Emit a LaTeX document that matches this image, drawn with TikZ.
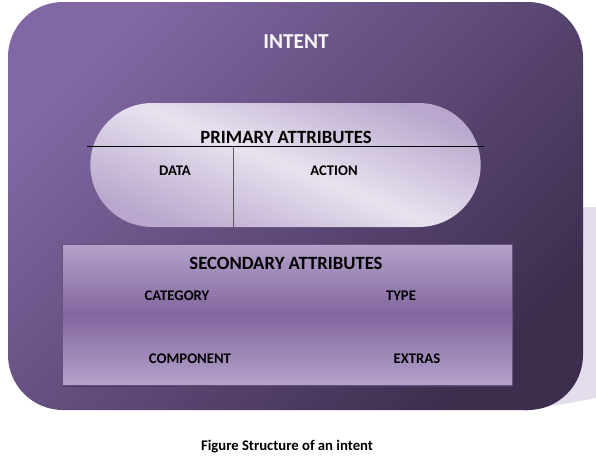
\documentclass[tikz,border=0pt]{standalone}
\usepackage{fontspec}
\setmainfont{Carlito}
\usetikzlibrary{positioning, shapes.misc, shadows}
\definecolor{intentlight}{HTML}{8167A3}
\definecolor{intentdark}{HTML}{3D2E4E}
\definecolor{pilllight}{HTML}{E8E2EF}
\definecolor{pilldark}{HTML}{B9A7CD}
\definecolor{seclight}{HTML}{B4A2CA}
\definecolor{secmid}{HTML}{8366A0}
\definecolor{secedge}{HTML}{4C3B60}
\definecolor{shadowlav}{HTML}{E4DDEC}

\begin{document}
\begin{tikzpicture}[x=1pt, y=-1pt,
    headlabel/.style={inner sep=0pt, font=\bfseries\fontsize{18.7}{20}\selectfont},
    itemlabel/.style={inner sep=0pt, font=\bfseries\fontsize{14.7}{16}\selectfont}]
    \useasboundingbox (0,0) rectangle (596,464);

    % Pale shadow peeking out on the right
    \fill[shadowlav] (525,207) -- (596,207) -- (596,398) -- (525,411) -- cycle;

    % Outer intent box
    \node[rounded corners=55pt, minimum width=575pt, minimum height=408pt,
          top color=intentlight, bottom color=intentdark, shading angle=45] (intent) at (295.5,206) {};
    \node[inner sep=0pt, text=white!95!intentlight, font=\bfseries\fontsize{21.3}{23}\selectfont] (intenttitle) at (296,42) {INTENT};

    % Primary attributes pill
    \node[rounded rectangle, minimum width=397pt, minimum height=124pt,
          top color=pilldark, bottom color=pilldark, middle color=pilllight, shading angle=-22] (primary) at (285.5,165) {};
    \coordinate (splitl) at (87,146);
    \coordinate (splitr) at (484,146);
    \coordinate (splittop) at (233,146);
    \coordinate (splitbot) at (233,227);
    \draw[black, line width=1pt] (splitl) -- (splitr);
    \draw[black!65, line width=1pt] (splittop) -- (splitbot);
    \node[headlabel] (primarytitle) at (286,137) {PRIMARY ATTRIBUTES};
    \node[itemlabel] (data) at (175,171) {DATA};
    \node[itemlabel] (action) at (334,171) {ACTION};

    % Secondary attributes box
    \node[minimum width=450pt, minimum height=141pt, draw=secmid!80!black, line width=0.6pt,
          top color=seclight, bottom color=seclight, middle color=secmid,
          drop shadow={shadow xshift=0pt, shadow yshift=-1.6pt, fill=secedge, opacity=1}] (secondary) at (287,314.5) {};
    \node[headlabel] (secondarytitle) at (286,263) {SECONDARY ATTRIBUTES};
    \node[itemlabel] (category) at (177,296) {CATEGORY};
    \node[itemlabel] (type) at (401,296) {TYPE};
    \node[itemlabel] (component) at (190,359) {COMPONENT};
    \node[itemlabel] (extras) at (417,359) {EXTRAS};

    % Caption
    \node[itemlabel] (caption) at (287,447) {Figure Structure of an intent};
\end{tikzpicture}
\end{document}
